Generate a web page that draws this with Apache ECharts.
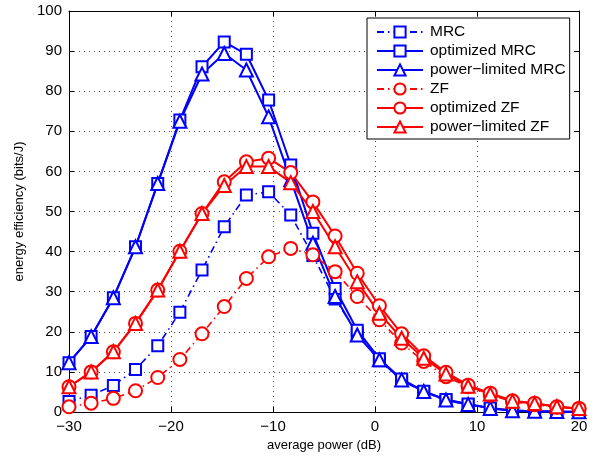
<!DOCTYPE html>
<html lang="en">

<head>
    <meta charset="UTF-8">
    <script src="https://cdnjs.cloudflare.com/ajax/libs/echarts/6.0.0/echarts.min.js"></script>
    <title>energy efficiency</title>
    <style>
        body { margin: 0; background: #fff; }
    </style>
</head>

<body>
    <div id="main" style="width: 602px;height:461px;"></div>
</body>
<script>
    // average power (dB), 24 points
    var power = [-30, -27.83, -25.65, -23.48, -21.30, -19.13, -16.96, -14.78, -12.61, -10.43, -8.26, -6.09,
        -3.91, -1.74, 0.43, 2.61, 4.78, 6.96, 9.13, 11.30, 13.48, 15.65, 17.83, 20];

    var mrc = [2.6, 4.2, 6.6, 10.6, 16.5, 24.9, 35.4, 46.2, 54.1, 54.9, 49.1, 39.0,
        28.2, 19.6, 12.8, 7.9, 5.0, 2.9, 1.8, 0.9, 0.4, 0.2, 0.1, 0.05];
    var optMrc = [12.3, 18.8, 28.5, 41.2, 57.0, 72.8, 86.1, 92.3, 89.2, 77.8, 61.6, 44.6,
        30.8, 20.4, 13.3, 8.2, 5.2, 3.1, 2.0, 1.0, 0.4, 0.2, 0.1, 0.05];
    var plMrc = [12.3, 18.8, 28.5, 41.2, 57.0, 72.5, 84.3, 89.4, 85.3, 73.6, 57.9, 42.1,
        28.8, 19.2, 13.0, 8.0, 5.1, 3.0, 1.9, 0.9, 0.3, 0.2, 0.1, 0.05];

    var zf = [1.3, 2.2, 3.4, 5.3, 8.6, 13.1, 19.5, 26.3, 33.3, 38.7, 40.8, 39.2,
        35.0, 28.8, 23.0, 17.2, 12.6, 8.8, 6.3, 4.2, 2.6, 1.8, 1.2, 0.8];
    var optZf = [6.3, 10.0, 15.0, 22.1, 30.4, 40.1, 49.5, 57.4, 62.4, 63.3, 59.7, 52.4,
        43.9, 34.6, 26.5, 19.5, 14.0, 9.9, 6.7, 4.7, 2.8, 2.2, 1.3, 0.9];
    var plZf = [6.3, 10.0, 15.0, 22.1, 30.4, 40.1, 49.5, 56.5, 61.2, 61.2, 57.2, 50.0,
        41.2, 32.5, 24.6, 18.4, 13.4, 9.5, 6.4, 4.5, 2.7, 2.1, 1.3, 0.9];

    var xTicks = [-30, -20, -10, 0, 10, 20];

    var myChart = echarts.init(document.getElementById('main'), null, { renderer: 'canvas' });

    function pairs(ys) {
        return power.map(function (x, i) { return [x, ys[i]]; });
    }

    var blue = '#0000ff';
    var red = '#ff0000';
    var font = 'Liberation Sans';

    function line(name, ys, color, symbol, size, dashed) {
        return {
            name: name,
            type: 'line',
            data: pairs(ys),
            symbol: symbol,
            symbolSize: size,
            showAllSymbol: true,
            xAxisIndex: 0,
            yAxisIndex: 0,
            lineStyle: { color: color, width: dashed ? 1.6 : 2, type: dashed ? [7, 4, 1.5, 4] : 'solid' },
            itemStyle: { color: '#fff', borderColor: color, borderWidth: 2 },
            emphasis: { disabled: true },
            animation: false
        };
    }

    var splitStyle = { show: true, lineStyle: { color: '#555', width: 1, type: [1, 4] } };

    var option = {
        backgroundColor: '#fff',
        animation: false,
        grid: { left: 69, right: 23, top: 11, bottom: 49 },
        legend: {
            orient: 'vertical',
            left: 367,
            top: 18,
            width: 205,
            padding: [6, 4, 4, 9],
            itemGap: 3,
            itemWidth: 46,
            itemHeight: 14,
            backgroundColor: '#fff',
            borderColor: '#000',
            borderWidth: 1,
            textStyle: { fontFamily: font, fontSize: 15.5, lineHeight: 15, color: '#000', padding: [0, 0, 0, 2] },
            data: ['MRC', 'optimized MRC', 'power\u2212limited MRC', 'ZF', 'optimized ZF', 'power\u2212limited ZF']
        },
        xAxis: [{
            type: 'value',
            min: -30,
            max: 20,
            interval: 10,
            name: 'average power (dB)',
            nameLocation: 'middle',
            nameGap: 22,
            nameTextStyle: { fontFamily: font, fontSize: 13, color: '#000' },
            axisLine: { onZero: false, lineStyle: { color: '#000', width: 1 } },
            axisTick: { inside: true, length: 5, lineStyle: { color: '#000' } },
            axisLabel: {
                fontFamily: font, fontSize: 15, color: '#000', margin: 7,
                formatter: function (v) { return xTicks.indexOf(v) >= 0 ? String(v).replace('-', '\u2212') : ''; }
            },
            splitLine: splitStyle
        }, {
            type: 'value',
            position: 'top',
            min: -30,
            max: 20,
            interval: 10,
            axisLine: { onZero: false, lineStyle: { color: '#000', width: 1 } },
            axisTick: { inside: true, length: 5, lineStyle: { color: '#000' } },
            axisLabel: { show: false },
            splitLine: { show: false }
        }],
        yAxis: [{
            type: 'value',
            min: 0,
            max: 100,
            interval: 10,
            name: 'energy efficiency (bits/J)',
            nameLocation: 'middle',
            nameGap: 37,
            nameTextStyle: { fontFamily: font, fontSize: 13, color: '#000' },
            axisLine: { show: true, onZero: false, lineStyle: { color: '#000', width: 1 } },
            axisTick: { show: true, inside: true, length: 5, lineStyle: { color: '#000' } },
            axisLabel: { fontFamily: font, fontSize: 15, color: '#000', margin: 7 },
            splitLine: splitStyle
        }, {
            type: 'value',
            position: 'right',
            min: 0,
            max: 100,
            interval: 10,
            axisLine: { show: true, onZero: false, lineStyle: { color: '#000', width: 1 } },
            axisTick: { show: true, inside: true, length: 5, lineStyle: { color: '#000' } },
            axisLabel: { show: false },
            splitLine: { show: false }
        }],
        series: [
            line('MRC', mrc, blue, 'rect', 11, true),
            line('optimized MRC', optMrc, blue, 'rect', 11, false),
            line('power\u2212limited MRC', plMrc, blue, 'triangle', 13, false),
            line('ZF', zf, red, 'circle', 13, true),
            line('optimized ZF', optZf, red, 'circle', 13, false),
            line('power\u2212limited ZF', plZf, red, 'triangle', 13, false)
        ]
    };
    myChart.setOption(option);
</script>

</html>
